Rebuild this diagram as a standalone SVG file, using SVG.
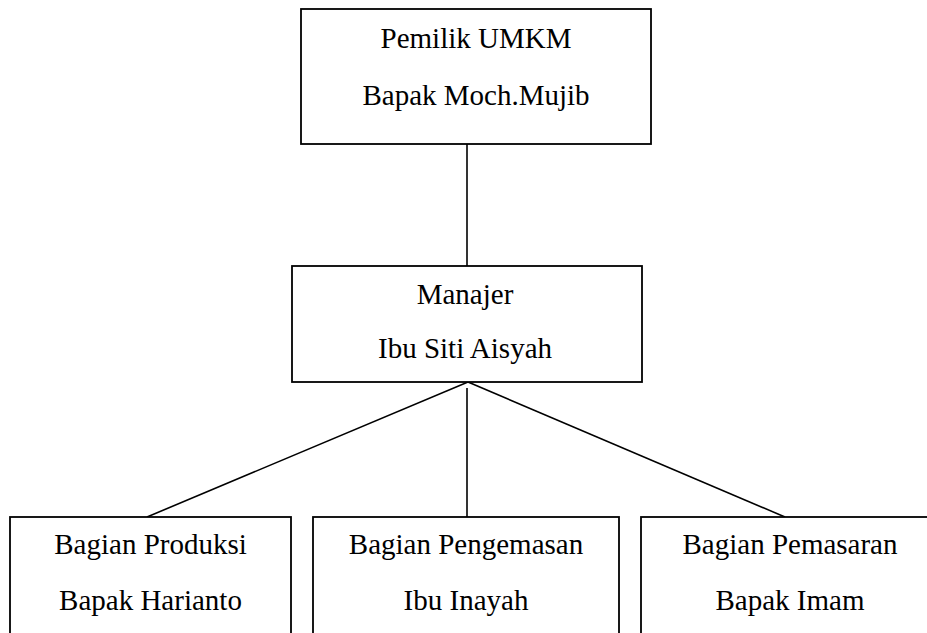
<svg xmlns="http://www.w3.org/2000/svg" width="927" height="633" viewBox="0 0 927 633">
<style>
.box{fill:#fff;stroke:#000;stroke-width:1.8}
.ln{stroke:#000;stroke-width:1.6;fill:none}
.t{font-family:'Liberation Serif','DejaVu Serif',serif;font-size:29px;fill:#000;text-anchor:middle}
</style>
<rect width="927" height="633" fill="#fff"/>
<g id="connectors">
<line class="ln" x1="467" y1="144" x2="467" y2="266"/>
<line class="ln" x1="468" y1="382" x2="147" y2="517"/>
<line class="ln" x1="468" y1="382" x2="785" y2="517"/>
<line class="ln" x1="467" y1="388" x2="467" y2="517"/>
</g>
<g id="pemilik">
<rect class="box" x="301" y="9" width="350" height="135"/>
<text class="t" font-family="Liberation Serif" x="476" y="48">Pemilik UMKM</text>
<text class="t" font-family="Liberation Serif" x="476" y="105">Bapak Moch.Mujib</text>
</g>
<g id="manajer">
<rect class="box" x="292" y="266" width="350" height="116"/>
<text class="t" x="465" y="304">Manajer</text>
<text class="t" x="465" y="358">Ibu Siti Aisyah</text>
</g>
<g id="produksi">
<rect class="box" x="10" y="517" width="281" height="130"/>
<text class="t" x="150.5" y="554">Bagian Produksi</text>
<text class="t" x="150.5" y="610">Bapak Harianto</text>
</g>
<g id="pengemasan">
<rect class="box" x="313" y="517" width="306" height="130"/>
<text class="t" x="466" y="554">Bagian Pengemasan</text>
<text class="t" x="466" y="610">Ibu Inayah</text>
</g>
<g id="pemasaran">
<rect class="box" x="641" y="517" width="300" height="130"/>
<text class="t" x="790" y="554">Bagian Pemasaran</text>
<text class="t" x="790" y="610">Bapak Imam</text>
</g>
</svg>
